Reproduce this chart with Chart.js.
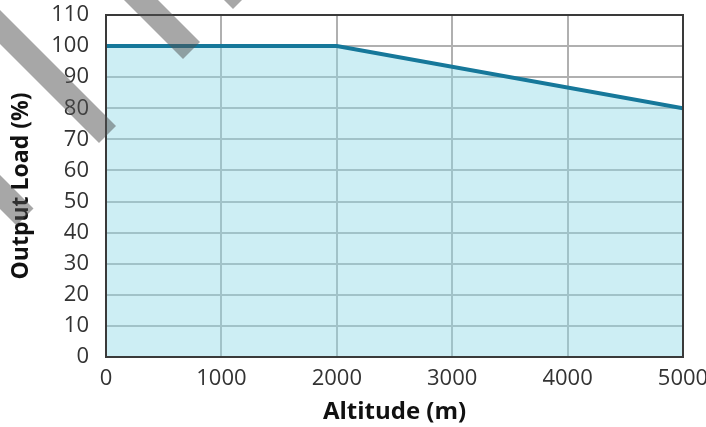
<!DOCTYPE html>
<html>
<head>
<meta charset="utf-8">
<script src="https://cdn.jsdelivr.net/npm/chart.js@4.4.1/dist/chart.umd.min.js"></script>
<style>
  html, body { margin: 0; padding: 0; background: #fff; }
  #wrap { width: 706px; height: 427px; position: relative; }
</style>
</head>
<body>
<div id="wrap"><canvas id="deratingChart"></canvas></div>
<script>
// Altitude derating data
const altitudes = [0, 2000, 5000];
const outputLoad = [100, 100, 80];
const xTicks = [0, 1000, 2000, 3000, 4000, 5000];
const yTicks = [0, 10, 20, 30, 40, 50, 60, 70, 80, 90, 100, 110];

// frame around the plot area
const frameBorder = {
    id: 'frameBorder',
    afterDatasetsDraw(chart) {
        const { ctx, chartArea: a } = chart;
        ctx.save();
        ctx.strokeStyle = '#3a3a3a';
        ctx.lineWidth = 2;
        ctx.strokeRect(a.left, a.top, a.right - a.left, a.bottom - a.top);
        ctx.restore();
    }
};

// diagonal watermark stripes in the top-left corner
const watermark = {
    id: 'watermark',
    afterDraw(chart) {
        const ctx = chart.ctx;
        const offsets = [175, 10, -158, -258];
        const w = 34, cut = 242;
        ctx.save();
        ctx.fillStyle = 'rgba(80, 80, 80, 0.5)';
        offsets.forEach(function(c) {
            const c2 = c + w;
            ctx.beginPath();
            ctx.moveTo((cut - c) / 2, (cut + c) / 2);
            ctx.lineTo((cut - c2) / 2, (cut + c2) / 2);
            ctx.lineTo((cut - c2) / 2 - 400, (cut + c2) / 2 - 400);
            ctx.lineTo((cut - c) / 2 - 400, (cut + c) / 2 - 400);
            ctx.closePath();
            ctx.fill();
        });
        ctx.restore();
    }
};

const ctx = document.getElementById('deratingChart');
new Chart(ctx.getContext('2d'), {
    type: 'line',
    data: {
        datasets: [{
            data: altitudes.map(function(x, i) { return { x: x, y: outputLoad[i] }; }),
            borderColor: '#16789a',
            borderWidth: 4,
            backgroundColor: 'rgba(144, 217, 231, 0.45)',
            fill: 'origin',
            pointRadius: 0,
            tension: 0
        }]
    },
    options: {
        responsive: true,
        maintainAspectRatio: false,
        animation: false,
        layout: {
            padding: { top: 15, right: 23, left: 0, bottom: 0 }
        },
        plugins: {
            legend: { display: false },
            tooltip: { enabled: false }
        },
        scales: {
            x: {
                type: 'linear',
                min: 0,
                max: 5000,
                afterBuildTicks: function(scale) {
                    scale.ticks = xTicks.map(function(v) { return { value: v }; });
                },
                afterFit: function(scale) {
                    scale.height = 70;
                    scale.paddingLeft = 0;
                    scale.paddingRight = 0;
                },
                ticks: {
                    color: '#333',
                    padding: 9,
                    maxRotation: 0,
                    font: { family: 'Open Sans', size: 22 },
                    callback: function(value) {
                        return String(value);
                    }
                },
                grid: {
                    color: '#b0b0b0',
                    lineWidth: 2,
                    drawTicks: false
                },
                border: { display: false },
                title: {
                    display: true,
                    text: 'Altitude (m)',
                    color: '#111',
                    font: { family: 'Open Sans', size: 24, weight: 'bold' },
                    padding: { top: 0, bottom: 0 }
                }
            },
            y: {
                min: 0,
                max: 110,
                afterBuildTicks: function(scale) {
                    scale.ticks = yTicks.map(function(v) { return { value: v }; });
                },
                afterFit: function(scale) {
                    scale.width = 106;
                    scale.paddingTop = 0;
                    scale.paddingBottom = 0;
                },
                ticks: {
                    color: '#333',
                    padding: 17,
                    font: { family: 'Open Sans', size: 22 }
                },
                grid: {
                    color: '#b0b0b0',
                    lineWidth: 2,
                    drawTicks: false
                },
                border: { display: false },
                title: {
                    display: true,
                    text: 'Output Load (%)',
                    color: '#111',
                    font: { family: 'Open Sans', size: 23, weight: 'bold' },
                    padding: { top: 8, bottom: 0 }
                }
            }
        }
    },
    plugins: [frameBorder, watermark]
});
</script>
</body>
</html>
